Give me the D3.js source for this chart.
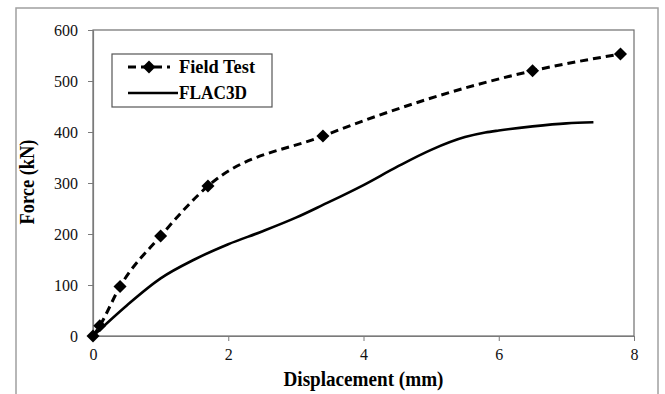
<!DOCTYPE html>
<html>
<head>
<meta charset="utf-8">
<script src="https://cdn.jsdelivr.net/npm/d3@7"></script>
<style>
  body { margin: 0; background: #fff; }
  svg { display: block; font-family: "Liberation Serif", "Times New Roman", serif; }
</style>
</head>
<body>
<div id="chart"></div>
<script>
// valeurs
const fieldDisp = [0, 0.1, 0.4, 1.0, 1.7, 3.4, 6.5, 7.8];
const fieldForce = [0, 20, 97, 196, 294, 392, 520, 553];

const flacDisp = [0, 0.5, 1.0, 1.5, 2.0, 2.5, 3.0, 3.4, 4.0, 4.5, 5.0, 5.5, 5.8, 6.0, 6.5, 7.0, 7.4];
const flacForce = [0, 60, 113, 150, 180, 205, 232, 257, 296, 332, 365, 390, 399, 403, 411, 417, 419];

const xTicks = [0, 2, 4, 6, 8];
const yTicks = [0, 100, 200, 300, 400, 500, 600];

const W = 665, H = 394;
const m = {top: 30, right: 31, bottom: 58, left: 93};

const svg = d3.select("#chart").append("svg")
    .attr("width", W)
    .attr("height", H);

// cadre gris autour de la figure
svg.append("rect")
    .attr("x", 16).attr("y", 8)
    .attr("width", 642).attr("height", 400)
    .attr("fill", "none")
    .attr("stroke", "#a0a0a0")
    .attr("stroke-width", 1.5);

const x = d3.scaleLinear().domain([0, 8]).range([m.left, W - m.right]);
const y = d3.scaleLinear().domain([0, 600]).range([H - m.bottom, m.top]);

// bordure de la zone de tracé
svg.append("rect")
    .attr("x", x(0)).attr("y", y(600))
    .attr("width", x(8) - x(0)).attr("height", y(0) - y(600))
    .attr("fill", "none")
    .attr("stroke", "#6e6e6e")
    .attr("stroke-width", 1.2);

const xAxis = svg.append("g")
    .attr("transform", "translate(0," + y(0) + ")")
    .call(d3.axisBottom(x).tickValues(xTicks).tickSize(5).tickSizeOuter(0).tickPadding(8));
const yAxis = svg.append("g")
    .attr("transform", "translate(" + x(0) + ",0)")
    .call(d3.axisLeft(y).tickValues(yTicks).tickSize(5).tickSizeOuter(0).tickPadding(10));

[xAxis, yAxis].forEach(a => {
    a.select(".domain").attr("stroke", "#7a7a7a").attr("stroke-width", 1.2);
    a.selectAll(".tick line").attr("stroke", "#7a7a7a");
    a.selectAll(".tick text")
        .attr("fill", "#111")
        .style("font-size", "16px")
        .style("font-family", "'Liberation Serif', serif");
});

// titres des axes
svg.append("text")
    .attr("x", (x(0) + x(8)) / 2)
    .attr("y", 386)
    .attr("text-anchor", "middle")
    .attr("textLength", 160)
    .attr("lengthAdjust", "spacingAndGlyphs")
    .style("font-size", "20px")
    .style("font-weight", "bold")
    .text("Displacement (mm)");

svg.append("text")
    .attr("transform", "translate(34,182)rotate(-90)")
    .attr("text-anchor", "middle")
    .attr("textLength", 85)
    .attr("lengthAdjust", "spacingAndGlyphs")
    .style("font-size", "20px")
    .style("font-weight", "bold")
    .text("Force (kN)");

const field = fieldDisp.map((d, i) => ({x: d, y: fieldForce[i]}));
const flac = flacDisp.map((d, i) => ({x: d, y: flacForce[i]}));

const line = d3.line()
    .x(d => x(d.x))
    .y(d => y(d.y))
    .curve(d3.curveMonotoneX);

svg.append("path")
    .datum(flac)
    .attr("d", line)
    .attr("fill", "none")
    .attr("stroke", "#000")
    .attr("stroke-width", 2.6);

svg.append("path")
    .datum(field)
    .attr("d", line)
    .attr("fill", "none")
    .attr("stroke", "#000")
    .attr("stroke-width", 3)
    .attr("stroke-dasharray", "8,5");

// losange = carré tourné de 45°
const diamond = d3.symbol().type(d3.symbolSquare).size(85);

svg.selectAll(".pt")
    .data(field)
    .enter()
    .append("path")
        .attr("class", "pt")
        .attr("d", diamond)
        .attr("transform", d => "translate(" + x(d.x) + "," + y(d.y) + ")rotate(45)")
        .attr("fill", "#000");

// légende
const leg = svg.append("g");
leg.append("rect")
    .attr("x", 112).attr("y", 54)
    .attr("width", 160).attr("height", 53)
    .attr("fill", "#fff")
    .attr("stroke", "#555")
    .attr("stroke-width", 1.2);

leg.append("line")
    .attr("x1", 128).attr("x2", 170)
    .attr("y1", 67).attr("y2", 67)
    .attr("stroke", "#000")
    .attr("stroke-width", 3)
    .attr("stroke-dasharray", "8,5");
leg.append("path")
    .attr("d", diamond)
    .attr("transform", "translate(149,67)rotate(45)")
    .attr("fill", "#000");
leg.append("text")
    .attr("x", 179).attr("y", 73)
    .attr("textLength", 76)
    .attr("lengthAdjust", "spacingAndGlyphs")
    .style("font-size", "18px")
    .style("font-weight", "bold")
    .text("Field Test");

leg.append("line")
    .attr("x1", 128).attr("x2", 178)
    .attr("y1", 93).attr("y2", 93)
    .attr("stroke", "#000")
    .attr("stroke-width", 2.6);
leg.append("text")
    .attr("x", 179).attr("y", 99)
    .attr("textLength", 68)
    .attr("lengthAdjust", "spacingAndGlyphs")
    .style("font-size", "18px")
    .style("font-weight", "bold")
    .text("FLAC3D");
</script>
</body>
</html>
